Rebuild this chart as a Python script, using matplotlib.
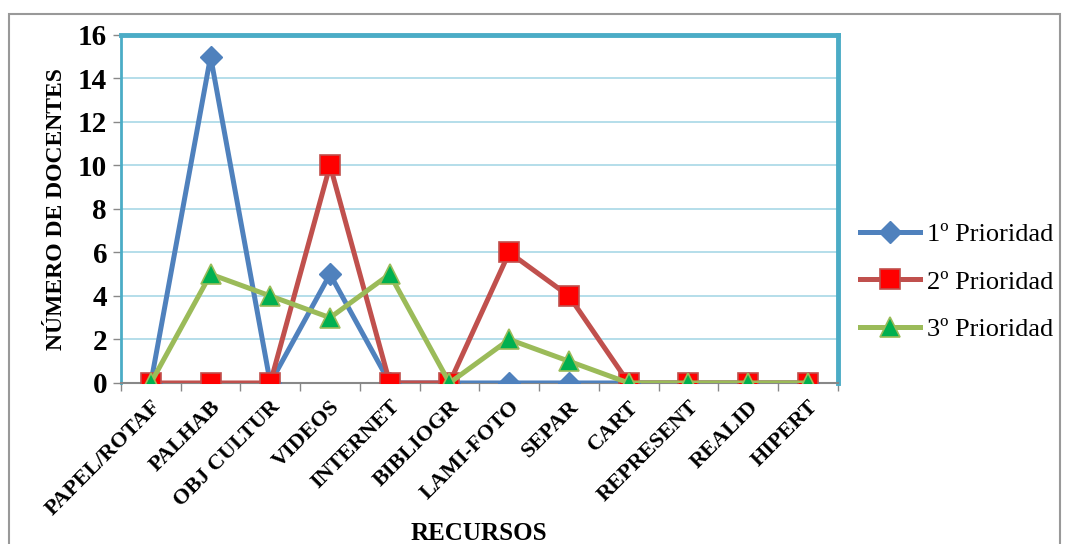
import matplotlib.pyplot as plt
from matplotlib.patches import Rectangle

# ── Data ──
recursos = ["PAPEL/ROTAF", "PALHAB", "OBJ CULTUR", "VIDEOS", "INTERNET", "BIBLIOGR",
            "LAMI-FOTO", "SEPAR", "CART", "REPRESENT", "REALID", "HIPERT"]
prioridad_1 = [0, 15, 0, 5, 0, 0, 0, 0, 0, 0, 0, 0]
prioridad_2 = [0, 0, 0, 10, 0, 0, 6, 4, 0, 0, 0, 0]
prioridad_3 = [0, 5, 4, 3, 5, 0, 2, 1, 0, 0, 0, 0]
y_ticks = [0, 2, 4, 6, 8, 10, 12, 14, 16]

SERIF = ["Liberation Serif", "DejaVu Serif"]
plt.rcParams["font.family"] = SERIF

fig = plt.figure(figsize=(10.65, 5.44), dpi=100)
ax = fig.add_axes([0.1136, 0.296, 0.673, 0.64])

x = list(range(len(recursos)))
ax.plot(x, prioridad_1, "-D", color="#4F81BD", lw=3.6, ms=11,
        mfc="#4F81BD", mec="#4F81BD", label="1º Prioridad", zorder=3)
ax.plot(x, prioridad_2, "-s", color="#C0504D", lw=3.6, ms=14,
        mfc="#FF0000", mec="#C0504D", mew=1.2, label="2º Prioridad", zorder=4)
ax.plot(x, prioridad_3, "-^", color="#9BBB59", lw=3.6, ms=14,
        mfc="#00B050", mec="#9BBB59", mew=1.2, label="3º Prioridad", zorder=5)

ax.set_xlim(-0.5, len(recursos) - 0.5)
ax.set_ylim(0, 16)
ax.set_yticks(y_ticks)
ax.set_yticklabels([str(v) for v in y_ticks], fontsize=21, fontweight="bold")
ax.set_xticks([i + 0.5 for i in range(-1, len(recursos))])
ax.set_xticklabels([])
ax.set_xticks(x, minor=True)
ax.set_xticklabels(recursos, minor=True, rotation=45, ha="right", va="top",
                   fontsize=16, fontweight="bold", rotation_mode="anchor")
ax.tick_params(axis="x", which="minor", length=0, pad=10)
ax.tick_params(axis="x", which="major", length=6, color="#888888", width=1)
ax.tick_params(axis="y", length=6, color="#888888", width=1, pad=4)

ax.grid(axis="y", color="#A8D8E6", lw=1.2)
ax.set_axisbelow(True)
for side in ["top", "right"]:
    ax.spines[side].set_color("#4BACC6")
    ax.spines[side].set_linewidth(3.5)
ax.spines["left"].set_color("#4BACC6")
ax.spines["left"].set_linewidth(2)
ax.spines["bottom"].set_color("#888888")
ax.spines["bottom"].set_linewidth(1.5)

ax.set_ylabel("NÚMERO DE DOCENTES", fontsize=17, fontweight="bold", labelpad=8)
fig.text(0.45, 0.02, "RECURSOS", fontsize=18, fontweight="bold", ha="center", va="center")

fig.legend(loc="center left", bbox_to_anchor=(0.785, 0.482), frameon=False,
           fontsize=19, handlelength=2.3, labelspacing=0.9, handletextpad=0.25)

# chart-area frame
fig.patches.append(Rectangle((0.008, -0.02), 0.987, 0.995, transform=fig.transFigure,
                             fill=False, edgecolor="#999999", lw=1.5))

fig.savefig("out.png", dpi=100)
